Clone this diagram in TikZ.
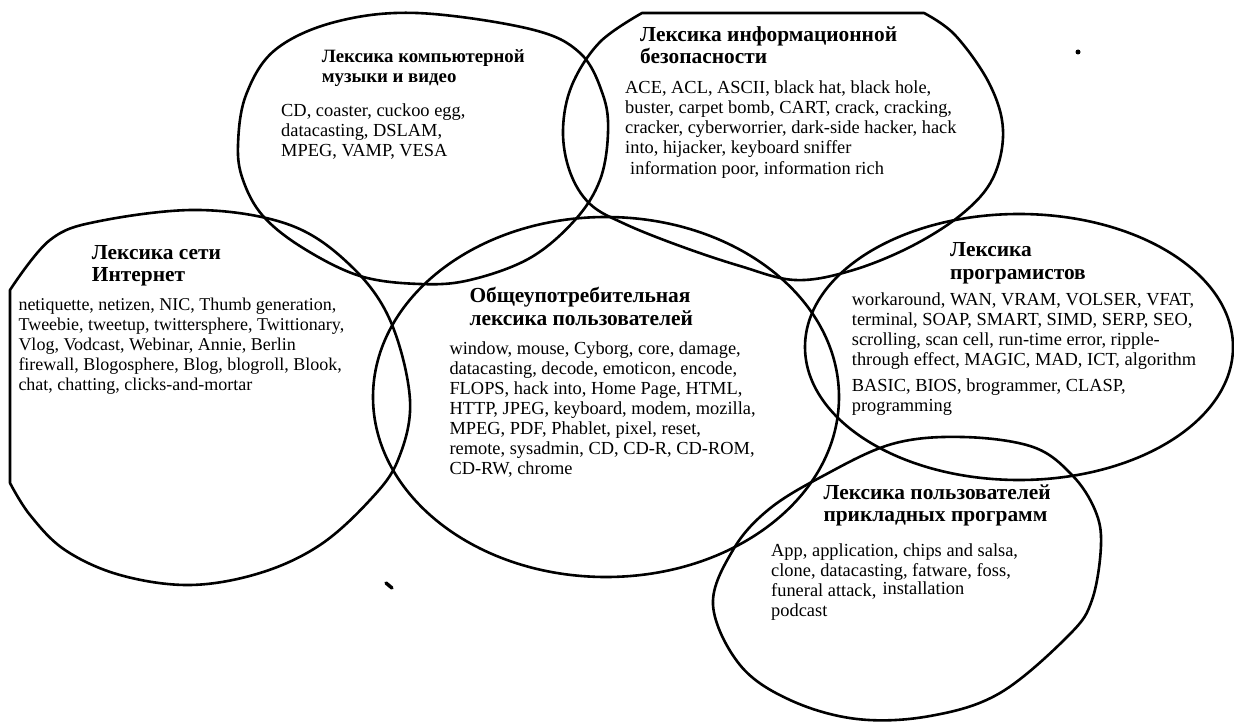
\documentclass[tikz,border=0pt]{standalone}
\usepackage{fontspec}
\setmainfont{Liberation Serif}
\begin{document}
\begin{tikzpicture}[x=1pt,y=-1pt]
\tikzset{
 ring/.style={draw=black, line width=2.6pt, line join=round},
 head/.style={anchor=base west, align=left, inner sep=0pt, font=\fontsize{21.4}{22.5}\selectfont\bfseries},
 body/.style={anchor=base west, align=left, inner sep=0pt, font=\fontsize{18.4}{20}\selectfont},
}
\useasboundingbox (0,0) rectangle (1234,722);
% outlines
\draw[ring] plot[smooth cycle, tension=0.6] coordinates {(417,13) (530,29) (580,53) (603,95) (608,133) (600,180) (575,220) (530,258) (470,280) (420,284) (360,276) (303,248) (263,216) (243,180) (238,145) (246,95) (275,50) (335,22)};
\draw[ring] plot[smooth, tension=0.6] coordinates {(924,13) (955,35) (989,83) (1003,130) (993,178) (962,214) (910,247) (850,271) (795,280) (740,266) (680,246) (625,224) (590,204) (570,172) (563,130) (572,85) (600,42) (642,13)} -- cycle;
\draw[ring] plot[smooth, tension=0.6] coordinates {(10,290) (50,240) (100,221) (200,210) (290,225) (350,265) (390,320) (410,400) (398,460) (370,500) (320,545) (260,573) (190,585) (120,575) (65,550) (30,515) (10,483)} -- cycle;
\draw[ring] (606,397) ellipse [x radius=233, y radius=180];
\draw[ring] (1019,347) ellipse [x radius=214, y radius=133];
\draw[ring] plot[smooth cycle, tension=0.6] coordinates {(713,605) (733,550) (768,510) (821,477) (892,444) (963,437) (1033,447) (1072,475) (1095,510) (1101,545) (1092,600) (1069,635) (1000,693) (930,716) (857,719) (790,700) (740,665)};
\fill (1078,52) circle (2.5);
\draw[line width=3.5pt, line cap=round] (386,583) -- (392,588);
% music
\node[head, font=\fontsize{18.8}{20}\selectfont\bfseries] (mh) at (321.7,82.3) {Лексика компьютерной\\музыки и видео};
\node[body] (mb) at (281,156.7) {CD, coaster, cuckoo egg,\\datacasting, DSLAM,\\MPEG, VAMP, VESA};
% info
\node[head] (ih) at (640,64) {Лексика информационной\\безопасности};
\node[body] (ib) at (625,153.3) {ACE, ACL, ASCII, black hat, black hole,\\buster, carpet bomb, CART, crack, cracking,\\cracker, cyberworrier, dark-side hacker, hack\\into, hijacker, keyboard sniffer};
\node[body] (ib2) at (630,175) {information poor, information rich};
% internet
\node[head] (nh) at (91.7,281.7) {Лексика сети\\Интернет};
\node[body, font=\fontsize{18}{20}\selectfont] (nb) at (18.3,390) {netiquette, netizen, NIC, Thumb generation,\\Tweebie, tweetup, twittersphere, Twittionary,\\Vlog, Vodcast, Webinar, Annie, Berlin\\firewall, Blogosphere, Blog, blogroll, Blook,\\chat, chatting, clicks-and-mortar};
% center
\node[head] (ch) at (469.3,325) {Общеупотребительная\\лексика пользователей};
\node[body] (cb) at (449.3,474) {window, mouse, Cyborg, core, damage,\\datacasting, decode, emoticon, encode,\\FLOPS, hack into, Home Page, HTML,\\HTTP, JPEG, keyboard, modem, mozilla,\\MPEG, PDF, Phablet, pixel, reset,\\remote, sysadmin, CD, CD-R, CD-ROM,\\CD-RW, chrome};
% programmers
\node[head] (ph) at (950,279.3) {Лексика\\програмистов};
\node[body] (pb) at (851.7,365) {workaround, WAN, VRAM, VOLSER, VFAT,\\terminal, SOAP, SMART, SIMD, SERP, SEO,\\scrolling, scan cell, run-time error, ripple-\\through effect, MAGIC, MAD, ICT, algorithm};
\node[body] (pb2) at (851.7,411.7) {BASIC, BIOS, brogrammer, CLASP,\\programming};
% apps
\node[head] (ah) at (823.3,521.7) {Лексика пользователей\\прикладных программ};
\node[body] (ab) at (771,616.7) {App, application, chips and salsa,\\clone, datacasting, fatware, foss,\\funeral attack,\\podcast};
\node[body] (ab2) at (882.3,594) {installation};
\end{tikzpicture}
\end{document}
